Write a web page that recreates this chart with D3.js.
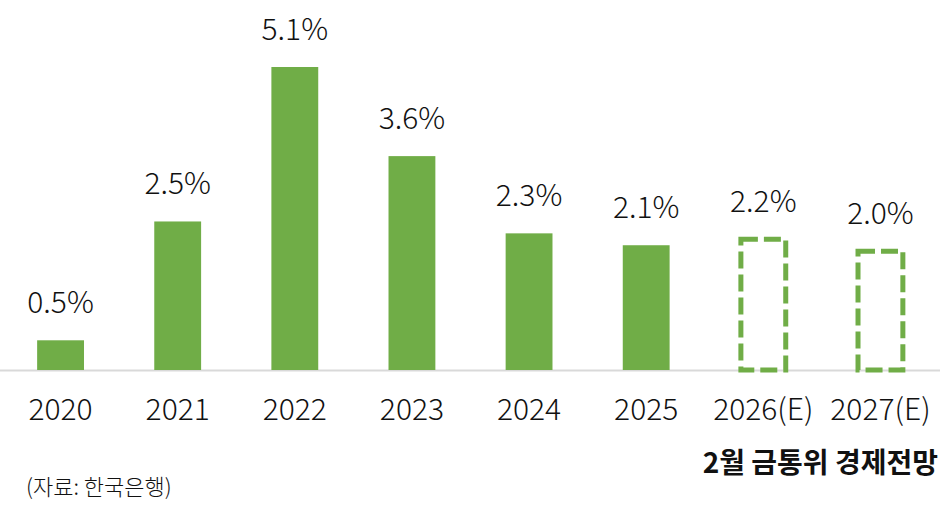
<!DOCTYPE html>
<html>
<head>
<meta charset="utf-8">
<title>경제성장률 전망</title>
<script src="https://cdn.jsdelivr.net/npm/d3@7"></script>
<style>
  html, body { margin: 0; padding: 0; background: #fff; }
  svg text { font-family: "Noto Sans CJK KR", "Noto Sans", sans-serif; }
</style>
</head>
<body>
<svg id="chart"></svg>
<script>
// data
const years = ["2020", "2021", "2022", "2023", "2024", "2025", "2026(E)", "2027(E)"];
const growth = [0.5, 2.5, 5.1, 3.6, 2.3, 2.1, 2.2, 2.0];
const forecast = [false, false, false, false, false, false, true, true];
const valueLabels = ["0.5%", "2.5%", "5.1%", "3.6%", "2.3%", "2.1%", "2.2%", "2.0%"];

const W = 949, H = 505;
const baseY = 370;
const green = "#70ad47";

const svg = d3.select("#chart").attr("width", W).attr("height", H);

const x = d3.scaleBand()
  .domain(years)
  .range([2, 939])
  .paddingInner(0.6)
  .paddingOuter(0.3);

const y = d3.scaleLinear()
  .domain([0, 5.1])
  .range([baseY, 67]);

const data = years.map((yr, i) => ({ yr, v: growth[i], e: forecast[i], label: valueLabels[i] }));

// baseline
svg.append("line")
  .attr("x1", 0).attr("x2", 940)
  .attr("y1", baseY + 0.5).attr("y2", baseY + 0.5)
  .attr("stroke", "#d9d9d9").attr("stroke-width", 2);

// actual bars
svg.selectAll(".bar")
  .data(data.filter(d => !d.e))
  .join("rect")
    .attr("class", "bar")
    .attr("x", d => x(d.yr))
    .attr("y", d => y(d.v))
    .attr("width", x.bandwidth())
    .attr("height", d => baseY - y(d.v))
    .attr("fill", green);

// forecast bars, dashed outline
svg.selectAll(".ebar")
  .data(data.filter(d => d.e))
  .join("rect")
    .attr("class", "ebar")
    .attr("x", d => x(d.yr) + 1)
    .attr("y", d => y(d.v))
    .attr("width", x.bandwidth() - 2)
    .attr("height", d => baseY - y(d.v))
    .attr("fill", "none")
    .attr("stroke", green)
    .attr("stroke-width", 5)
    .attr("stroke-dasharray", "17,6");

// value labels
svg.selectAll(".val")
  .data(data)
  .join("text")
    .attr("class", "val")
    .attr("x", d => x(d.yr) + x.bandwidth() / 2)
    .attr("y", d => y(d.v) - 27)
    .attr("text-anchor", "middle")
    .attr("font-size", 30)
    .attr("font-weight", 300)
    .attr("fill", "#111")
    .text(d => d.label);

// category axis
const axis = svg.append("g")
  .attr("transform", `translate(0,${baseY})`)
  .call(d3.axisBottom(x).tickSize(0).tickPadding(0));
axis.select(".domain").remove();
axis.selectAll("text")
  .attr("y", 50)
  .attr("dy", 0)
  .attr("font-size", 30)
  .attr("font-weight", 300)
  .attr("font-family", "'Noto Sans CJK KR', 'Noto Sans', sans-serif")
  .attr("fill", "#111");

// subtitle and source
svg.append("text")
  .attr("x", 938).attr("y", 473)
  .attr("text-anchor", "end")
  .attr("font-size", 28)
  .attr("font-weight", 700)
  .attr("fill", "#111")
  .text("2월 금통위 경제전망");

svg.append("text")
  .attr("x", 26).attr("y", 495)
  .attr("font-size", 22)
  .attr("font-weight", 300)
  .attr("fill", "#111")
  .text("(자료: 한국은행)");
</script>
</body>
</html>
